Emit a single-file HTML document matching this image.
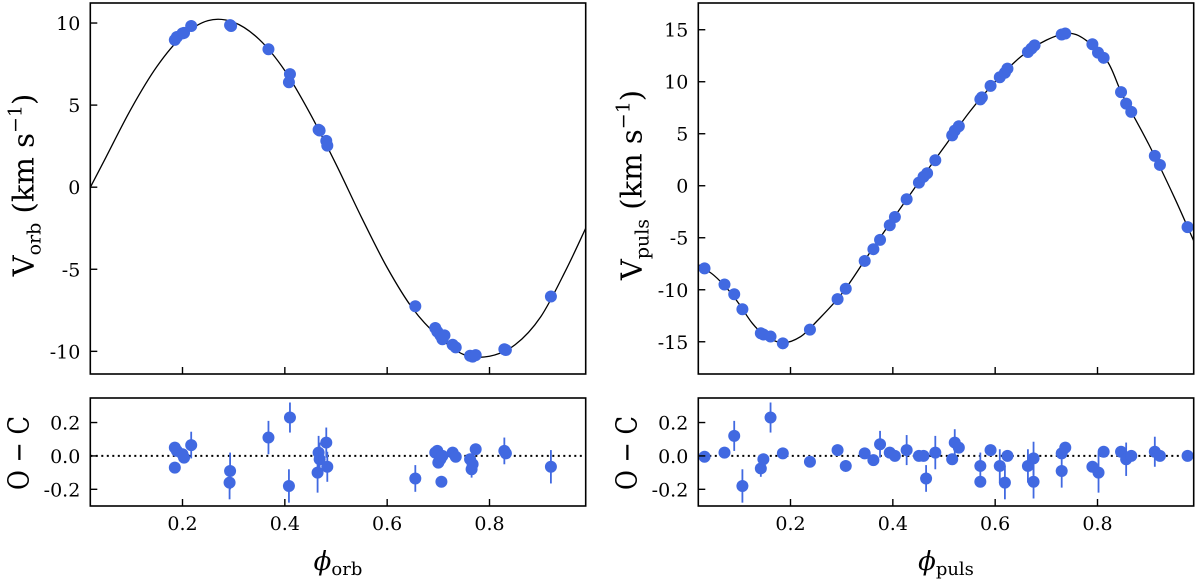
<!DOCTYPE html>
<html><head><meta charset="utf-8"><style>
html,body{margin:0;padding:0;background:#fff;}
svg{display:block;font-family:"DejaVu Serif","Liberation Serif",serif;}
</style></head><body>
<svg id="c" width="1200" height="582" viewBox="0 0 1200 582" xmlns="http://www.w3.org/2000/svg"></svg>
<script>
// ---- Left (orbital) data ----
const orbCurvePhase=[0.02,0.05,0.10,0.15,0.20,0.25,0.30,0.35,0.40,0.45,0.50,0.55,0.60,0.65,0.70,0.75,0.80,0.85,0.90,0.95,0.988];
const orbCurveV=[0,1.8,4.8,7.35,9.2,10.15,10.05,9.0,7.1,4.45,1.4,-1.85,-4.9,-7.4,-9.1,-10.2,-10.3,-9.6,-7.9,-5.0,-2.5];
const orbPhase=[0.185,0.189,0.200,0.203,0.217,0.293,0.295,0.368,0.410,0.408,0.466,0.468,0.481,0.483,0.655,0.694,0.698,0.704,0.708,0.712,0.728,0.734,0.762,0.767,0.773,0.829,0.832,0.920];
const orbV=[8.97,9.15,9.37,9.4,9.82,9.87,9.82,8.4,6.89,6.39,3.5,3.45,2.82,2.53,-7.25,-8.58,-8.8,-9.03,-9.26,-9.03,-9.6,-9.76,-10.27,-10.32,-10.23,-9.87,-9.92,-6.66];
const orbResPhase=[0.185,0.185,0.189,0.200,0.203,0.217,0.293,0.292,0.368,0.410,0.408,0.466,0.468,0.464,0.481,0.483,0.655,0.694,0.698,0.700,0.704,0.708,0.706,0.728,0.734,0.762,0.765,0.767,0.773,0.829,0.832,0.920];
const orbRes=[0.05,-0.07,0.03,0.01,-0.01,0.065,-0.09,-0.16,0.11,0.23,-0.18,0.02,-0.02,-0.10,0.08,-0.065,-0.135,0.02,0.03,-0.04,-0.02,0.0,-0.155,0.02,-0.005,-0.02,-0.08,-0.05,0.04,0.03,0.015,-0.065];
const orbResErr=[0.03,0.03,0.03,0.03,0.03,0.08,0.11,0.1,0.1,0.09,0.1,0.1,0.1,0.12,0.09,0.09,0.08,0.03,0.03,0.03,0.03,0.03,0.03,0.03,0.03,0.03,0.05,0.03,0.03,0.08,0.03,0.1];
// ---- Right (pulsation) data ----
const pulCurvePhase=[0.02,0.05,0.08,0.10,0.125,0.15,0.185,0.22,0.25,0.30,0.35,0.40,0.45,0.50,0.55,0.60,0.65,0.70,0.745,0.78,0.82,0.85,0.90,0.95,0.988];
const pulCurveV=[-7.6,-8.6,-10.1,-11.4,-13.2,-14.4,-15.1,-14.5,-13.1,-10.4,-6.8,-3.2,0.3,3.7,7.1,10.0,12.4,14.0,14.65,13.9,11.9,8.6,4.0,-1.1,-5.3];
const pulPhase=[0.032,0.071,0.09,0.106,0.142,0.147,0.161,0.185,0.238,0.292,0.308,0.345,0.362,0.375,0.394,0.404,0.427,0.451,0.46,0.467,0.483,0.516,0.521,0.529,0.571,0.574,0.591,0.609,0.619,0.624,0.664,0.671,0.677,0.73,0.737,0.79,0.801,0.812,0.846,0.856,0.866,0.912,0.922,0.976];
const pulV=[-7.94,-9.5,-10.43,-11.87,-14.18,-14.3,-14.5,-15.15,-13.83,-10.9,-9.9,-7.23,-6.1,-5.2,-3.8,-3.0,-1.3,0.3,0.87,1.2,2.45,4.84,5.3,5.72,8.3,8.5,9.6,10.43,10.86,11.26,12.86,13.2,13.5,14.54,14.64,13.6,12.8,12.3,9.0,7.9,7.1,2.87,2.0,-3.98];
const pulResPhase=[0.032,0.071,0.09,0.106,0.142,0.147,0.161,0.185,0.238,0.292,0.308,0.345,0.362,0.375,0.394,0.404,0.427,0.451,0.46,0.465,0.483,0.516,0.521,0.529,0.571,0.571,0.591,0.609,0.619,0.624,0.664,0.675,0.675,0.73,0.73,0.737,0.79,0.802,0.812,0.846,0.856,0.866,0.912,0.922,0.976];
const pulRes=[-0.005,0.02,0.12,-0.18,-0.075,-0.02,0.23,0.015,-0.035,0.035,-0.06,0.015,-0.025,0.07,0.02,0.0,0.035,0.0,0.0,-0.135,0.02,-0.02,0.08,0.05,-0.06,-0.155,0.035,-0.06,-0.16,0.0,-0.06,-0.015,-0.155,0.015,-0.09,0.05,-0.065,-0.10,0.025,0.025,-0.02,0.0,0.025,0.0,0.0];
const pulResErr=[0.03,0.03,0.09,0.1,0.05,0.03,0.09,0.03,0.03,0.03,0.03,0.03,0.03,0.08,0.03,0.03,0.09,0.03,0.03,0.08,0.1,0.03,0.08,0.03,0.08,0.03,0.03,0.1,0.1,0.03,0.1,0.1,0.1,0.03,0.1,0.03,0.03,0.12,0.03,0.03,0.1,0.03,0.09,0.03,0.03];
const xTicks=[0.2,0.4,0.6,0.8];
const xTickLabels=["0.2","0.4","0.6","0.8"];
const orbYTicks=[10,5,0,-5,-10];
const orbYTickLabels=["10","5","0","-5","-10"];
const pulYTicks=[15,10,5,0,-5,-10,-15];
const pulYTickLabels=["15","10","5","0","-5","-10","-15"];
const resTicks=[0.2,0.0,-0.2];
const resTickLabels=["0.2","0.0","-0.2"];

const NS="http://www.w3.org/2000/svg";
const svg=document.getElementById('c');
function mk(tag,attrs,parent){const e=document.createElementNS(NS,tag);for(const k in attrs)e.setAttribute(k,attrs[k]);(parent||svg).appendChild(e);return e;}
const BLUE="#4169e1";
const XMIN=0.0198,XMAX=0.988;

function panel(o){
  const g=mk('g',{});
  
  
  const L=o.left,R=o.left+495.4;
  const sx=v=>L+(v-XMIN)/(XMAX-XMIN)*(R-L);
  const T0=3,T1=374;
  const sy=v=>T0+(o.ymax-v)/(o.ymax-o.ymin)*(T1-T0);
  const B0=398,B1=506,RMAX=0.347,RMIN=-0.30;
  const ry=v=>B0+(RMAX-v)/(RMAX-RMIN)*(B1-B0);
  const cid='clip'+o.name;
  const cp=mk('clipPath',{id:cid},g);mk('rect',{x:L,y:T0,width:R-L,height:T1-T0},cp);
  const pts=o.cph.map((p,i)=>[sx(p),sy(o.cv[i])]);
  let d='M'+pts[0][0].toFixed(2)+','+pts[0][1].toFixed(2);
  for(let i=0;i<pts.length-1;i++){
    const p0=pts[Math.max(0,i-1)],p1=pts[i],p2=pts[i+1],p3=pts[Math.min(pts.length-1,i+2)];
    const c1=[p1[0]+(p2[0]-p0[0])/6,p1[1]+(p2[1]-p0[1])/6];
    const c2=[p2[0]-(p3[0]-p1[0])/6,p2[1]-(p3[1]-p1[1])/6];
    d+=' C'+c1[0].toFixed(2)+','+c1[1].toFixed(2)+' '+c2[0].toFixed(2)+','+c2[1].toFixed(2)+' '+p2[0].toFixed(2)+','+p2[1].toFixed(2);
  }
  const curve=mk('path',{d:d,fill:'none',stroke:'#000','stroke-width':1.3,'clip-path':'url(#'+cid+')'},g);
  
  
  o.ph.forEach((p,i)=>{
    const c=mk('circle',{cx:sx(p),cy:sy(o.v[i]),r:6,fill:BLUE},g);
    
    
  });
  const fr=mk('rect',{x:L,y:T0,width:R-L,height:T1-T0,fill:'none',stroke:'#000','stroke-width':1.6},g);
  
  
  o.yt.forEach((t,i)=>{
    const y=sy(t);
    mk('line',{x1:L,x2:L+7,y1:y,y2:y,stroke:'#000','stroke-width':1.4},g);
    const tx=mk('text',{x:L-10,y:y+7,'text-anchor':'end','font-size':19},g);
    tx.textContent=o.ytl[i];
    
    
  });
  xTicks.forEach(t=>{
    const x=sx(t);
    mk('line',{x1:x,x2:x,y1:T1,y2:T1-7,stroke:'#000','stroke-width':1.4},g);
    mk('line',{x1:x,x2:x,y1:B1,y2:B1-7,stroke:'#000','stroke-width':1.4},g);
  });
  mk('line',{x1:L,x2:R,y1:ry(0),y2:ry(0),stroke:'#000','stroke-width':2,'stroke-dasharray':'2,3.5'},g);
  o.rph.forEach((p,i)=>{
    const x=sx(p);
    const eb=mk('line',{x1:x,x2:x,y1:ry(o.r[i]+o.re[i]),y2:ry(o.r[i]-o.re[i]),stroke:BLUE,'stroke-width':1.8},g);
    
    
    const c=mk('circle',{cx:x,cy:ry(o.r[i]),r:6,fill:BLUE},g);
    
    
  });
  const fr2=mk('rect',{x:L,y:B0,width:R-L,height:B1-B0,fill:'none',stroke:'#000','stroke-width':1.6},g);
  
  
  resTicks.forEach((t,i)=>{
    const y=ry(t);
    mk('line',{x1:L,x2:L+7,y1:y,y2:y,stroke:'#000','stroke-width':1.4},g);
    const tx=mk('text',{x:L-10,y:y+7,'text-anchor':'end','font-size':19},g);
    tx.textContent=resTickLabels[i];
    
    
  });
  xTicks.forEach((t,i)=>{
    const tx=mk('text',{x:sx(t),y:530,'text-anchor':'middle','font-size':19},g);
    tx.textContent=xTickLabels[i];
    
    
  });
  const yl=mk('text',{transform:'translate('+(L-57)+',185) rotate(-90)','text-anchor':'middle','font-size':29},g);
  yl.innerHTML='V<tspan font-size="19" dy="7">'+o.sub+'</tspan><tspan dy="-7">  (km s</tspan><tspan font-size="19" dy="-12">−1</tspan><tspan dy="12">)</tspan>';
  
  
  const rl=mk('text',{transform:'translate('+(L-62)+',453) rotate(-90)','text-anchor':'middle','font-size':29,textLength:74,lengthAdjust:'spacingAndGlyphs'},g);
  rl.textContent='O − C';
  
  
  const xl=mk('text',{x:(L+R)/2,y:570,'text-anchor':'middle','font-size':26,'font-style':'italic'},g);
  xl.innerHTML='ϕ<tspan font-style="normal" font-size="18" dy="5">'+o.sub+'</tspan>';
  
  
}
panel({name:'orbital-panel',left:90.3,ymin:-11.38,ymax:11.22,cph:orbCurvePhase,cv:orbCurveV,ph:orbPhase,v:orbV,rph:orbResPhase,r:orbRes,re:orbResErr,yt:orbYTicks,ytl:orbYTickLabels,sub:'orb'});
panel({name:'pulsation-panel',left:698.3,ymin:-18.1,ymax:17.57,cph:pulCurvePhase,cv:pulCurveV,ph:pulPhase,v:pulV,rph:pulResPhase,r:pulRes,re:pulResErr,yt:pulYTicks,ytl:pulYTickLabels,sub:'puls'})
</script>
</body></html>
